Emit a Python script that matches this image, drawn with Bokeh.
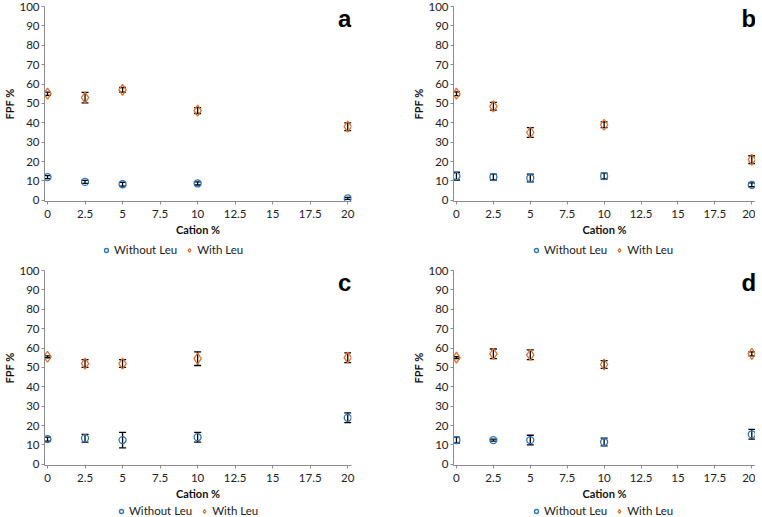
from bokeh.plotting import figure
from bokeh.layouts import column, row
from bokeh.models import (ColumnDataSource, Whisker, TeeHead, Label, Legend,
                          LegendItem, FixedTicker, CustomJSTickFormatter, Range1d)
from bokeh.embed import file_html
from bokeh.resources import INLINE

# ---------------- data ----------------
cation = [0, 2.5, 5, 10, 20]
x_ticks = [0, 2.5, 5, 7.5, 10, 12.5, 15, 17.5, 20]
y_ticks = [0, 10, 20, 30, 40, 50, 60, 70, 80, 90, 100]
series_names = ["Without Leu", "With Leu"]

without_a = [12.0, 9.5, 8.3, 8.7, 1.0]
without_a_err = [0.8, 0.8, 1.0, 0.8, 0.5]
with_a = [55.0, 53.0, 57.0, 46.3, 38.0]
with_a_err = [0.8, 2.7, 1.2, 1.5, 2.0]

without_b = [12.5, 12.0, 11.5, 12.5, 8.0]
without_b_err = [2.0, 1.5, 2.0, 1.5, 1.0]
with_b = [55.0, 48.5, 35.0, 39.0, 21.0]
with_b_err = [1.0, 2.0, 2.5, 1.5, 2.0]

without_c = [13.0, 13.5, 12.5, 14.0, 24.0]
without_c_err = [1.0, 2.0, 4.0, 2.5, 2.5]
with_c = [55.5, 52.0, 52.0, 54.5, 55.0]
with_c_err = [0.5, 2.0, 2.0, 3.5, 2.5]

without_d = [12.5, 12.5, 12.5, 11.5, 15.5]
without_d_err = [1.5, 0.5, 2.5, 2.0, 2.5]
with_d = [55.0, 57.0, 56.5, 51.5, 57.0]
with_d_err = [0.5, 2.5, 2.5, 2.0, 1.0]

series = {
    "a": (without_a, without_a_err, with_a, with_a_err),
    "b": (without_b, without_b_err, with_b, with_b_err),
    "c": (without_c, without_c_err, with_c, with_c_err),
    "d": (without_d, without_d_err, with_d, with_d_err),
}

BLUE = "#2E75B6"
ORANGE = "#E0702A"
AXIS = "#8C8C8C"
FONT = "Lato"
CIRCLE = dict(marker="circle", size=7, fill_color=None, line_color=BLUE, line_width=1.3)
DIAMOND = dict(marker="diamond", size=11, fill_color=None, line_color=ORANGE, line_width=1.3)


def make_panel(letter, left, right, top, bottom, fw, fh):
    wo, wo_e, wi, wi_e = series[letter]
    p = figure(frame_width=fw, frame_height=fh, output_backend="svg",
               toolbar_location=None, tools="",
               x_range=Range1d(-0.2, 20.25), y_range=Range1d(-0.6, 100),
               min_border_left=left, min_border_right=right,
               min_border_top=top, min_border_bottom=bottom)
    p.grid.visible = False
    p.outline_line_color = None

    p.xaxis.ticker = FixedTicker(ticks=x_ticks)
    p.xaxis.formatter = CustomJSTickFormatter(code="return String(tick);")
    p.yaxis.ticker = FixedTicker(ticks=y_ticks)
    for ax in (p.xaxis, p.yaxis):
        ax.axis_line_color = AXIS
        ax.major_tick_line_color = AXIS
        ax.minor_tick_line_color = None
        ax.major_tick_in = 0
        ax.major_tick_out = 3
        ax.major_label_text_font = FONT
        ax.major_label_text_font_size = "11.5px"
        ax.major_label_text_color = "#222222"
        ax.axis_label_text_font = FONT
        ax.axis_label_text_font_size = "11px"
        ax.axis_label_text_font_style = "bold"
        ax.axis_label_text_color = "#111111"
    p.xaxis.axis_label = "Cation %"
    p.yaxis.axis_label = "FPF %"
    p.xaxis.major_label_standoff = 5
    p.xaxis.axis_label_standoff = 2
    p.yaxis.major_label_standoff = 2
    p.yaxis.axis_label_standoff = 0

    for vals, errs in ((wo, wo_e), (wi, wi_e)):
        src = ColumnDataSource(dict(
            x=cation,
            lower=[v - e for v, e in zip(vals, errs)],
            upper=[v + e for v, e in zip(vals, errs)],
        ))
        p.add_layout(Whisker(source=src, base="x", lower="lower", upper="upper",
                             line_color="black", line_width=1.3,
                             upper_head=TeeHead(size=7, line_color="black", line_width=1.3),
                             lower_head=TeeHead(size=7, line_color="black", line_width=1.3)))

    p.scatter(cation, wo, **CIRCLE)
    p.scatter(cation, wi, **DIAMOND)

    p.add_layout(Label(x=19.8, y=94, text=letter, text_font="Liberation Sans",
                       text_font_style="bold", text_font_size="24px",
                       text_align="center", text_baseline="middle",
                       text_color="black"))
    return p


def make_legend(letter, width, height, leg_x, leg_y):
    wo, wo_e, wi, wi_e = series[letter]
    # legend strip: the series are plotted on a range that keeps them out of view,
    # so only the legend entries (glyph + label) are visible
    f = figure(width=width, height=height, output_backend="svg", toolbar_location=None,
               tools="", x_axis_type=None, y_axis_type=None,
               x_range=Range1d(100, 101), y_range=Range1d(1000, 1001), min_border=0)
    f.grid.visible = False
    f.outline_line_color = None
    r1 = f.scatter(cation, wo, **CIRCLE)
    r2 = f.scatter(cation, wi, **DIAMOND)
    legend = Legend(items=[LegendItem(label=series_names[0], renderers=[r1]),
                           LegendItem(label=series_names[1], renderers=[r2])],
                    orientation="horizontal", location=(leg_x, leg_y),
                    border_line_color=None, background_fill_alpha=0,
                    label_text_font=FONT, label_text_font_size="11.5px",
                    label_text_color="#222222",
                    glyph_width=10, glyph_height=12, label_height=12,
                    label_standoff=3, spacing=7, padding=1, margin=0)
    f.add_layout(legend)
    return f


pa = make_panel("a", 30, 30, 6, 38, 307, 195)
pb = make_panel("b", 72, 0, 6, 38, 302, 195)
pc = make_panel("c", 30, 30, 12, 36, 307, 195)
pd = make_panel("d", 72, 0, 12, 36, 302, 195)

la = make_legend("a", 374, 19, 101, 2)
lb = make_legend("b", 374, 19, 157, 2)
lc = make_legend("c", 374, 15, 116, 0)
ld = make_legend("d", 374, 15, 157, 0)

layout = column(row(pa, pb), row(la, lb), row(pc, pd), row(lc, ld))

open("out.html", "w").write(file_html(layout, INLINE))
